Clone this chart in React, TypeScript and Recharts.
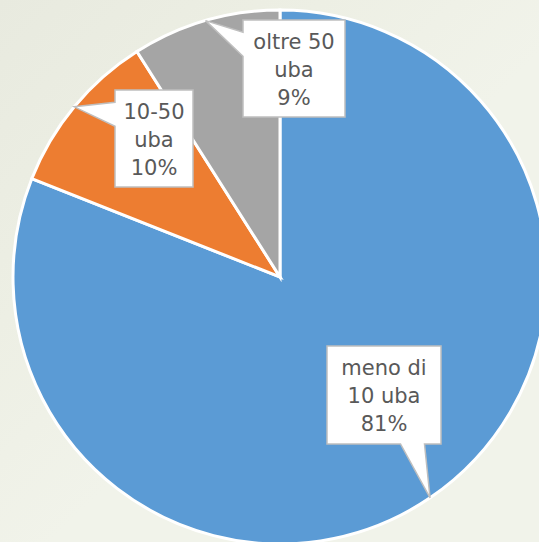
import { PieChart, Pie, Cell } from "recharts"

const categories = ["meno di\n10 uba", "10-50\nuba", "oltre 50\nuba"]
const shares = [81, 10, 9]
const COLORS = ["#5B9BD5", "#ED7D31", "#A5A5A5"]

// callout boxes, offsets from the pie centre
const BOXES = [
  { dx: 47, dy: 69, w: 114, h: 98 },
  { dx: -165, dy: -187, w: 78, h: 97 },
  { dx: -37, dy: -257, w: 102, h: 97 },
]

const RAD = Math.PI / 180

const data = categories.map((name, i) => ({ name, value: shares[i] }))

const Callout = (props: any) => {
  const { cx, cy, midAngle, outerRadius, index, name, value } = props
  const b = BOXES[index]
  const x0 = cx + b.dx
  const y0 = cy + b.dy
  const x1 = x0 + b.w
  const y1 = y0 + b.h
  const tx = cx + outerRadius * Math.cos(-midAngle * RAD)
  const ty = cy + outerRadius * Math.sin(-midAngle * RAD)
  const half = 12
  const clamp = (v: number, a: number, c: number) => Math.max(a, Math.min(c, v))

  // which side the pointer leaves from
  const out = [
    { side: "left", d: x0 - tx },
    { side: "right", d: tx - x1 },
    { side: "top", d: y0 - ty },
    { side: "bottom", d: ty - y1 },
  ].sort((a, c) => c.d - a.d)[0].side

  let path = ""
  if (out === "left" || out === "right") {
    const c = clamp(ty, y0 + b.h * 0.25, y1 - b.h * 0.25)
    const ex = out === "left" ? x0 : x1
    const first = out === "left" ? `M${x0},${y0} L${x1},${y0} L${x1},${y1} L${x0},${y1}` : `M${x1},${y1} L${x0},${y1} L${x0},${y0} L${x1},${y0}`
    path = out === "left"
      ? `${first} L${ex},${c + half} L${tx},${ty} L${ex},${c - half} Z`
      : `${first} L${ex},${c - half} L${tx},${ty} L${ex},${c + half} Z`
  } else {
    const c = clamp(tx, x0 + b.w * 0.25, x1 - b.w * 0.25)
    const ey = out === "top" ? y0 : y1
    path = out === "bottom"
      ? `M${x0},${y0} L${x1},${y0} L${x1},${y1} L${c + half},${ey} L${tx},${ty} L${c - half},${ey} L${x0},${y1} Z`
      : `M${x0},${y1} L${x0},${y0} L${c - half},${ey} L${tx},${ty} L${c + half},${ey} L${x1},${y0} L${x1},${y1} Z`
  }

  const lines = [...String(name).split("\n"), `${value}%`]
  const mid = (x0 + x1) / 2

  return (
    <g>
      <path d={path} fill="#FFFFFF" stroke="#BFBFBF" strokeWidth={1.5} strokeLinejoin="miter" />
      {lines.map((t, i) => (
        <text
          key={i}
          x={mid}
          y={y0 + 29 + i * 28}
          textAnchor="middle"
          fill="#595959"
          fontSize={21}
          fontFamily="'DejaVu Sans', sans-serif"
        >
          {t}
        </text>
      ))}
    </g>
  )
}

export default function App() {
  return (
    <div
      style={{
        position: "fixed",
        left: 0,
        top: 0,
        width: 539,
        height: 542,
        overflow: "hidden",
        background: "linear-gradient(135deg, #E8EADF 0%, #EDEFE4 30%, #F1F3EA 55%, #F1F3EA 100%)",
      }}
    >
      <PieChart width={539} height={542} margin={{ top: 0, right: 0, bottom: 0, left: 0 }}>
        <Pie
          data={data}
          dataKey="value"
          nameKey="name"
          cx={280}
          cy={277}
          outerRadius={267}
          startAngle={90}
          endAngle={-270}
          stroke="#FFFFFF"
          strokeWidth={3}
          label={Callout}
          labelLine={false}
          isAnimationActive={false}
        >
          {data.map((_, index) => (
            <Cell key={index} fill={COLORS[index % COLORS.length]} />
          ))}
        </Pie>
      </PieChart>
    </div>
  )
}
